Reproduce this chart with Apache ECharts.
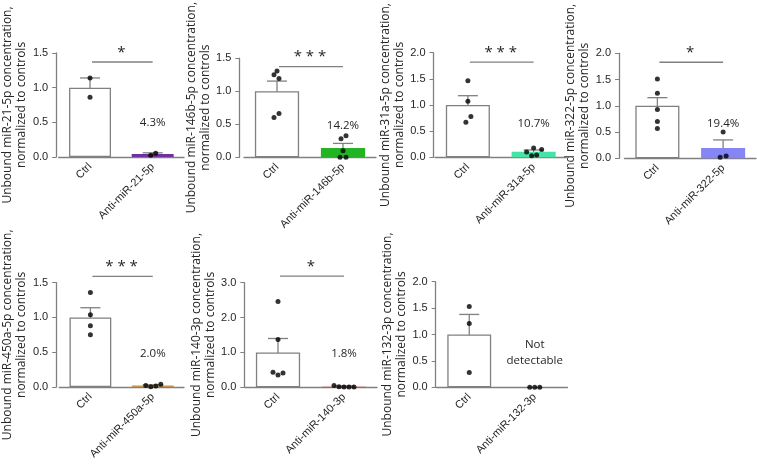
<!DOCTYPE html>
<html><head><meta charset="utf-8">
<script src="https://cdn.jsdelivr.net/npm/echarts@6/dist/echarts.min.js"></script>
<style>html,body{margin:0;padding:0;background:#fff}#c{width:757px;height:467px}</style>
</head><body><div id="c"></div>
<script>
// ---------------- DATA ----------------
const mirNames = ['miR-21-5p','miR-146b-5p','miR-31a-5p','miR-322-5p','miR-450a-5p','miR-140-3p','miR-132-3p'];
const ctrlMeans = [1.0, 1.0, 1.0, 1.0, 1.0, 1.0, 1.0];
const antiMeans = [0.043, 0.142, 0.107, 0.194, 0.020, 0.018, null];
const ctrlErrLow  = [0.86, 0.843, 0.82, 0.81, 0.872, 0.59, 0.62];
const ctrlErrHigh = [1.14, 1.152, 1.178, 1.155, 1.14, 1.40, 1.38];
const antiErrLow  = [0.025, 0.067, 0.064, 0.02, 0.01, 0.0, null];
const antiErrHigh = [0.060, 0.210, 0.140, 0.35, 0.03, 0.04, null];
const ctrlPoints = [
  [1.14, 0.86],
  [1.305, 1.248, 1.19, 0.662, 0.60],
  [1.465, 1.07, 0.78, 0.67],
  [1.51, 1.24, 0.93, 0.70, 0.57],
  [1.36, 1.04, 0.88, 0.75],
  [2.46, 1.37, 0.43, 0.35, 0.41],
  [1.53, 1.21, 0.28]
];
const antiPoints = [
  [0.024, 0.053],
  [0.324, 0.281, 0.10, 0, 0],
  [0.10, 0.18, 0.15, 0.03, 0.045],
  [0.50, 0.045, 0.02],
  [0.02, 0.005, 0.015, 0.04],
  [0.05, 0.015, 0.01, 0.01, 0.01],
  [0, 0, 0]
];
const pctLabels = ['4.3%','14.2%','10.7%','19.4%','2.0%','1.8%','Not\ndetectable'];
const sigStars = ['*','* * *','* * *','*','* * *','*',''];
const yMax = [1.5, 1.5, 2.0, 2.0, 1.5, 3.0, 2.0];
const yInterval = [0.5, 0.5, 0.5, 0.5, 0.5, 1.0, 0.5];
const antiColors = ['#7030a0','#22b422','#44e3a6','#8585f5','#c8964b','#c0392b','#ffffff'];

// ---------------- LAYOUT / STYLE ----------------
const layout = [
  {axisX:49.5, left:52,    width:132,   top:53,    bottom:157,   sigY:1.37, labelY:0.49},
  {axisX:239.3,left:244,   width:132,   top:52.5,  bottom:157.3, sigY:1.37, labelY:0.48},
  {axisX:433.5,left:435,   width:131.5, top:52.7,  bottom:157.3, sigY:1.82, labelY:0.65},
  {axisX:619,  left:624.5, width:131.5, top:53.3,  bottom:158.3, sigY:1.83, labelY:0.65},
  {axisX:49,   left:52,    width:132,   top:282.7, bottom:387,   sigY:1.59, labelY:0.485},
  {axisX:244.3,left:245,   width:132,   top:282.7, bottom:387.3, sigY:3.19, labelY:0.95},
  {axisX:435.7,left:436.5, width:131,   top:281.7, bottom:387.3, sigY:null, labelY:0.65}
];
const jitterCtrl = [[0,0],[0,-3,2,2,-3],[0,0,3,-2],[0,0,0,0,0],[0,0,0,0],[0,0,-5,0,5],[0,0,0]];
const jitterAnti = [[-2,3],[3,-2,0,-3,3],[-7,0,8,-2,3],[0,3,-3],[-7,-2,3,8],[-10,-5,0,5,10],[-5,0,5]];

const FONT = 'Open Sans';
const TXT = '#262626';
const AX = '#808080';

function oneDecimal(v) {
  const n = Number(v);
  return isFinite(n) ? n.toFixed(1) : String(v);
}

const chart = echarts.init(document.getElementById('c'));
const grid = [], xAxis = [], yAxis = [], series = [];

mirNames.forEach((name, i) => {
  const L = layout[i];
  const cats = ['Ctrl', 'Anti-' + name];
  grid.push({left: L.left, top: L.top, width: L.width, height: L.bottom - L.top});
  xAxis.push({
    type:'category', gridIndex:i, data:cats,
    axisLine:{lineStyle:{color:AX, width:1.3}},
    axisTick:{alignWithLabel:true, length:4, lineStyle:{color:AX}},
    axisLabel:{rotate:45, fontSize:11, color:TXT}
  });
  yAxis.push({
    type:'value', gridIndex:i, min:0, max:yMax[i], interval:yInterval[i],
    offset: L.left - L.axisX,
    splitLine:{show:false},
    axisLine:{show:true, lineStyle:{color:AX, width:1.3}},
    axisTick:{show:true, length:4, lineStyle:{color:AX}},
    axisLabel:{fontSize:11, color:TXT, formatter:oneDecimal},
    name:'Unbound ' + name + ' concentration,\nnormalized to controls',
    nameLocation:'middle', nameRotate:90, nameGap:24,
    nameTextStyle:{fontFamily:FONT, fontSize:12, color:TXT, lineHeight:14}
  });
  series.push({
    type:'bar', xAxisIndex:i, yAxisIndex:i, barCategoryGap:'33%',
    data:[
      {value:ctrlMeans[i], itemStyle:{color:'#ffffff', borderColor:AX, borderWidth:1.3}},
      {value:antiMeans[i], itemStyle:{color:antiColors[i], borderWidth:0}}
    ]
  });
  // percentage / note label above the treated group
  series.push({
    type:'custom', xAxisIndex:i, yAxisIndex:i, clip:false,
    encode:{x:0, y:1},
    data:[[1, L.labelY]],
    renderItem:(params, api) => {
      const p = api.coord([api.value(0), api.value(1)]);
      return {type:'text', x:p[0], y:p[1],
        style:{text:pctLabels[i], fontFamily:FONT, fontSize:11.5, fill:TXT, align:'center', verticalAlign:'middle', lineHeight:16}};
    }
  });
  // significance bar + stars
  if (L.sigY != null) {
    series.push({
      type:'custom', xAxisIndex:i, yAxisIndex:i, clip:false,
      encode:{x:0, y:1},
      data:[[0, L.sigY]],
      renderItem:(params, api) => {
        const y = api.value(1);
        const a = api.coord([0, y]), b = api.coord([1, y]);
        return {type:'group', children:[
          {type:'line', shape:{x1:a[0] + 2, y1:a[1], x2:b[0], y2:b[1]}, style:{stroke:AX, lineWidth:1.3}},
          {type:'text', x:(a[0]+b[0])/2, y:a[1]-2, style:{text:sigStars[i], fontFamily:FONT, fontSize:15, fill:TXT, align:'center', verticalAlign:'bottom'}}
        ]};
      }
    });
  }
  // error bars
  const errData = [[0, ctrlErrLow[i], ctrlErrHigh[i]]];
  if (antiErrLow[i] != null) errData.push([1, antiErrLow[i], antiErrHigh[i]]);
  series.push({
    type:'custom', xAxisIndex:i, yAxisIndex:i,
    encode:{x:0, y:[1,2]},
    data:errData,
    renderItem:(params, api) => {
      const x = api.value(0);
      const pLo = api.coord([x, api.value(1)]);
      const pHi = api.coord([x, api.value(2)]);
      const hw = 10;
      const st = {stroke:AX, lineWidth:1.3};
      return {type:'group', children:[
        {type:'line', shape:{x1:pLo[0], y1:pLo[1], x2:pHi[0], y2:pHi[1]}, style:st},
        {type:'line', shape:{x1:pLo[0]-hw, y1:pLo[1], x2:pLo[0]+hw, y2:pLo[1]}, style:st},
        {type:'line', shape:{x1:pHi[0]-hw, y1:pHi[1], x2:pHi[0]+hw, y2:pHi[1]}, style:st}
      ]};
    }
  });
  const pts = [];
  ctrlPoints[i].forEach((v, k) => pts.push({value:[0, v], symbolOffset:[jitterCtrl[i][k], 0]}));
  antiPoints[i].forEach((v, k) => pts.push({value:[1, v], symbolOffset:[jitterAnti[i][k], 0]}));
  series.push({
    type:'scatter', xAxisIndex:i, yAxisIndex:i,
    symbol:'circle', symbolSize:5, itemStyle:{color:'#000000'},
    data:pts
  });
});

chart.setOption({animation:false, grid, xAxis, yAxis, series});
</script>
</body></html>
